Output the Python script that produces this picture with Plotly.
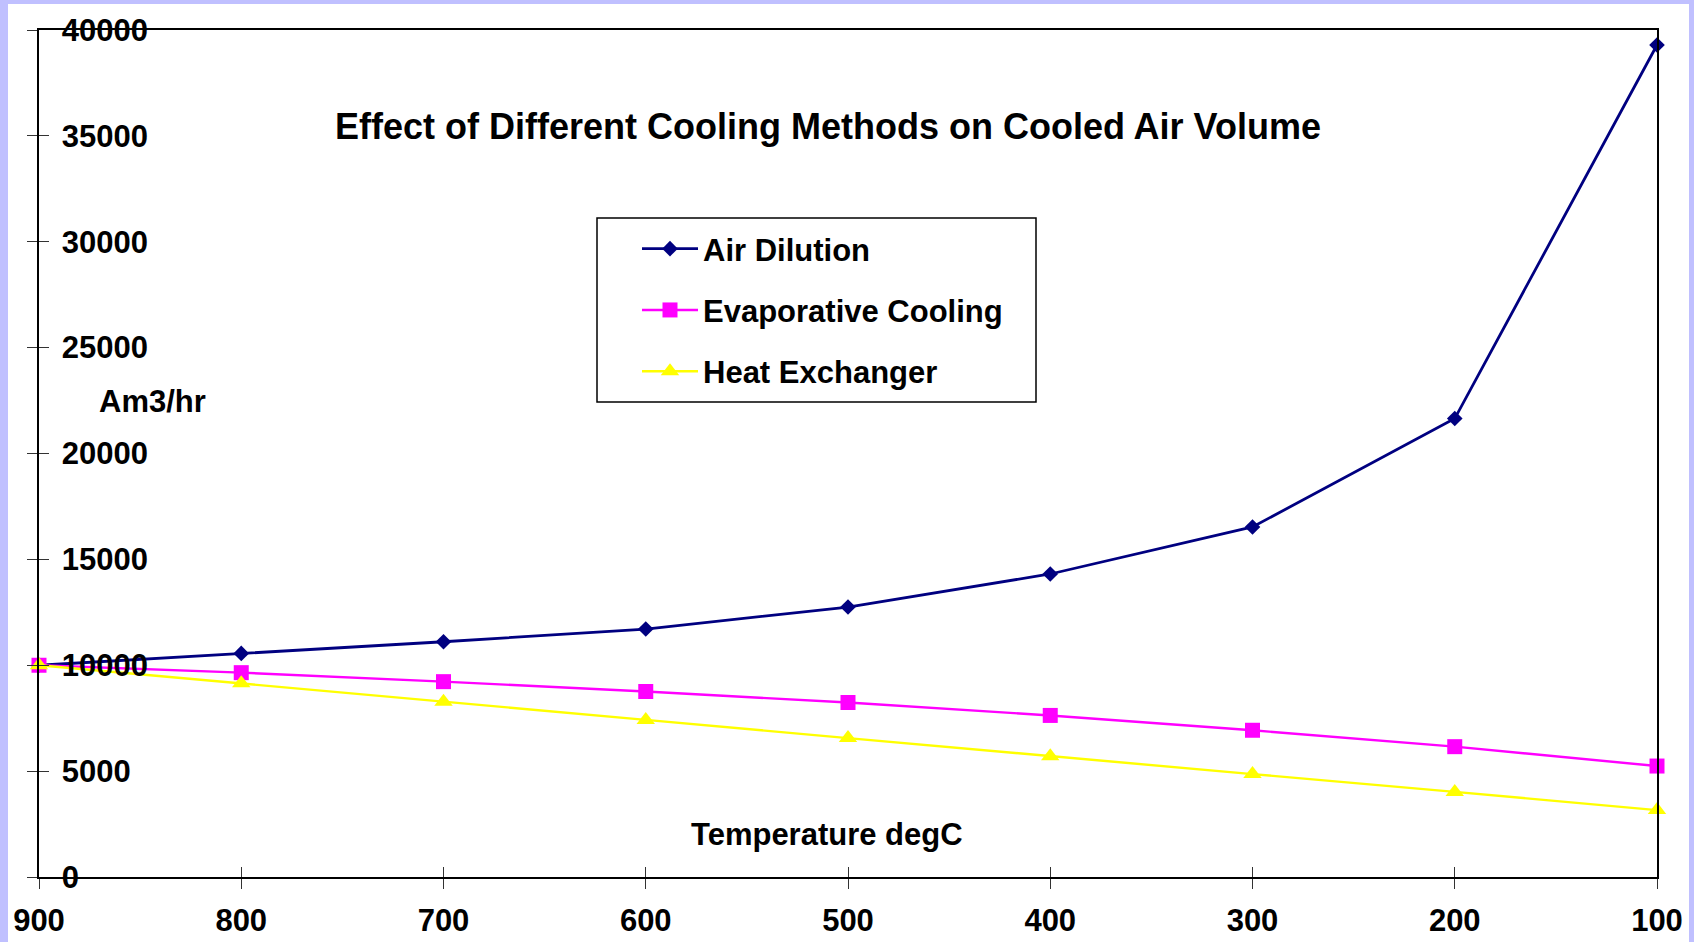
import plotly.graph_objects as go

# ---- data ----
temperature = [900, 800, 700, 600, 500, 400, 300, 200, 100]
air_dilution = [10000, 10560, 11110, 11710, 12750, 14310, 16530, 21650, 39290]
evaporative_cooling = [10000, 9650, 9225, 8760, 8240, 7630, 6930, 6155, 5240]
heat_exchanger = [10000, 9150, 8280, 7420, 6560, 5700, 4860, 4020, 3160]

series_names = ["Air Dilution", "Evaporative Cooling", "Heat Exchanger"]
series_values = [air_dilution, evaporative_cooling, heat_exchanger]
series_colors = ["#000080", "#FF00FF", "#FFFF00"]
series_symbols = ["diamond", "square", "triangle-up"]
series_sizes = [12, 15, 16]
series_widths = [2.8, 2.4, 2.4]

y_ticks = [0, 5000, 10000, 15000, 20000, 25000, 30000, 35000, 40000]
x_ticks = [900, 800, 700, 600, 500, 400, 300, 200, 100]

title_text = "Effect of Different Cooling Methods on Cooled Air Volume"
y_title = "Am3/hr"
x_title = "Temperature degC"

FONT = "Liberation Sans, Arial, sans-serif"

W, H = 1694, 942
L, R, T, B = 39, 37, 30, 65
pw, ph = W - L - R, H - T - B


def px_x(p):
    return (p - L) / pw


def px_y(p):
    return (H - B - p) / ph


fig = go.Figure()
for i, (name, vals) in enumerate(zip(series_names, series_values)):
    fig.add_trace(go.Scatter(
        x=temperature, y=vals, name=name, mode="lines+markers",
        line=dict(color=series_colors[i], width=series_widths[i]),
        marker=dict(symbol=series_symbols[i], size=series_sizes[i],
                    color=series_colors[i], line=dict(width=0)),
        cliponaxis=False, legendgroup=name,
    ))

# invisible helper trace so the overlay axes (inner half of crossing ticks) render
fig.add_trace(go.Scatter(x=temperature, y=air_dilution, xaxis="x2", yaxis="y2",
                         mode="lines", line=dict(width=0), opacity=0,
                         showlegend=False, hoverinfo="skip"))

tick_font = dict(family=FONT, size=31, color="black", weight="bold")

fig.update_layout(
    width=W, height=H, autosize=False,
    margin=dict(l=L, r=R, t=T, b=B, pad=0, autoexpand=False),
    paper_bgcolor="#C0C0FF",
    plot_bgcolor="white",
    showlegend=True,
    legend=dict(
        x=px_x(597), y=px_y(222), xanchor="left", yanchor="top",
        bgcolor="rgba(0,0,0,0)", borderwidth=0,
        font=dict(family=FONT, size=31, color="black", weight="bold"),
        traceorder="grouped", tracegroupgap=18, itemwidth=56,
        indentation=40,
    ),
    xaxis=dict(
        range=[900, 100], tickmode="array", tickvals=x_ticks,
        ticktext=[str(v) for v in x_ticks],
        showgrid=False, zeroline=False, automargin=False,
        showline=True, linecolor="black", linewidth=2, mirror=True,
        ticks="outside", ticklen=10, tickwidth=1, tickcolor="#333333",
        tickfont=tick_font, ticklabelstandoff=5,
    ),
    yaxis=dict(
        range=[0, 40000], tickmode="array", tickvals=y_ticks,
        ticktext=[str(v) for v in y_ticks],
        showgrid=False, zeroline=False, automargin=False,
        showline=True, linecolor="black", linewidth=2, mirror=True,
        ticks="outside", ticklen=10, tickwidth=1, tickcolor="#333333",
        tickfont=tick_font, ticklabelposition="inside",
        ticklabelstandoff=26, ticklabeloverflow="allow",
    ),
    xaxis2=dict(
        overlaying="x", matches="x", range=[900, 100], tickmode="array",
        tickvals=x_ticks, showticklabels=False, showgrid=False,
        zeroline=False, showline=False, ticks="inside", ticklen=10,
        tickwidth=1, tickcolor="#333333", side="bottom", anchor="y2",
        automargin=False,
    ),
    yaxis2=dict(
        overlaying="y", matches="y", range=[0, 40000], tickmode="array",
        tickvals=y_ticks, showticklabels=False, showgrid=False,
        zeroline=False, showline=False, ticks="inside", ticklen=10,
        tickwidth=1, tickcolor="#333333", side="left", anchor="x2",
        automargin=False,
    ),
    shapes=[
        dict(type="rect", xref="paper", yref="paper", layer="below",
             x0=px_x(8), x1=px_x(1689), y0=px_y(960), y1=px_y(4),
             fillcolor="white", line=dict(width=0)),
        # legend frame
        dict(type="rect", xref="paper", yref="paper", layer="above",
             x0=px_x(597), x1=px_x(1036), y0=px_y(402), y1=px_y(218),
             fillcolor="white", line=dict(color="black", width=1.5)),
    ],
    annotations=[
        dict(text="<b>" + title_text + "</b>", xref="paper", yref="paper",
             x=px_x(828), y=px_y(127), xanchor="center", yanchor="middle",
             showarrow=False, font=dict(family=FONT, size=36, color="black")),
        dict(text="<b>" + y_title + "</b>", xref="paper", yref="paper",
             x=px_x(152), y=px_y(402), xanchor="center", yanchor="middle",
             showarrow=False, font=dict(family=FONT, size=31, color="black")),
        dict(text="<b>" + x_title + "</b>", xref="paper", yref="paper",
             x=px_x(827), y=px_y(834), xanchor="center", yanchor="middle",
             showarrow=False, font=dict(family=FONT, size=31, color="black")),
    ],
)

fig.write_html("out.html",
               config={"displayModeBar": False},
               post_script="document.body.style.margin='0px';"
                           "document.body.style.background='#C0C0FF';")
